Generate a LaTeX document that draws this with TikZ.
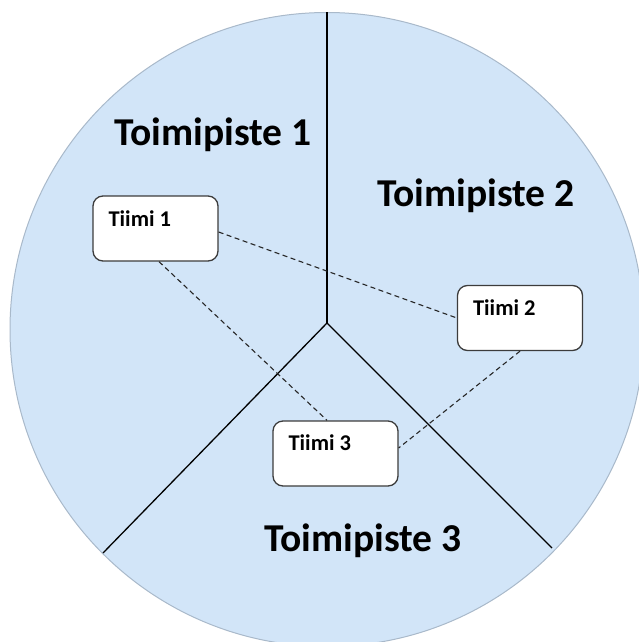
\documentclass[tikz,border=0pt]{standalone}
\usepackage{fontspec}
\setmainfont{Carlito}
\usetikzlibrary{calc}
\definecolor{fillblue}{HTML}{D2E5F8}
\definecolor{rimblue}{HTML}{A9B9CA}
\definecolor{boxedge}{HTML}{3C3C3C}
\tikzset{
  teambox/.style={draw=boxedge, line width=1.3pt, fill=white, rounded corners=10pt,
    minimum width=125pt, minimum height=65pt, inner sep=0pt},
  teamtext/.style={anchor=west, inner sep=0pt, font=\fontsize{22.5}{25}\selectfont\bfseries},
  sitetext/.style={inner sep=0pt, font=\fontsize{39.5}{43}\selectfont\bfseries},
  divider/.style={draw=black, line width=1.3pt},
  link/.style={draw=black!85, line width=1.1pt, dash pattern=on 5pt off 3.5pt}
}
\begin{document}
\begin{tikzpicture}[x=1pt,y=-1pt]
\useasboundingbox (0,0) rectangle (639,642);
\begin{scope}
\clip (0,0) rectangle (639,642);
\fill[fillblue, draw=rimblue, line width=1pt] (327,329.5) circle[radius=317];
\end{scope}
\coordinate (top) at (327,12.5);
\coordinate (J) at (327,323);
\coordinate (bl) at (103,553);
\coordinate (br) at (552,548);
\draw[divider] (top) -- (J);
\draw[divider] (bl) -- (J) -- (br);

\node[sitetext] (s1) at (213,135) {Toimipiste 1};
\node[sitetext] (s2) at (476,196) {Toimipiste 2};
\node[sitetext] (s3) at (363,541) {Toimipiste 3};

\node[teambox] (t1) at (155.5,228.5) {};
\node[teambox] (t2) at (520,318) {};
\node[teambox] (t3) at (335.5,453.5) {};
\node[teamtext] (t1l) at ($(t1.north west)+(16,23)$) {Tiimi 1};
\node[teamtext] (t2l) at ($(t2.north west)+(16,23)$) {Tiimi 2};
\node[teamtext] (t3l) at ($(t3.north west)+(16,22)$) {Tiimi 3};

\draw[link] ($(t1.east)+(0,3.5)$) -- (t2.west);
\draw[link] ($(t1.south)+(3.5,0)$) -- ($(t3.north)+(-8.5,0)$);
\draw[link] (t2.south) -- ($(t3.east)+(0,-5.5)$);
\end{tikzpicture}
\end{document}
